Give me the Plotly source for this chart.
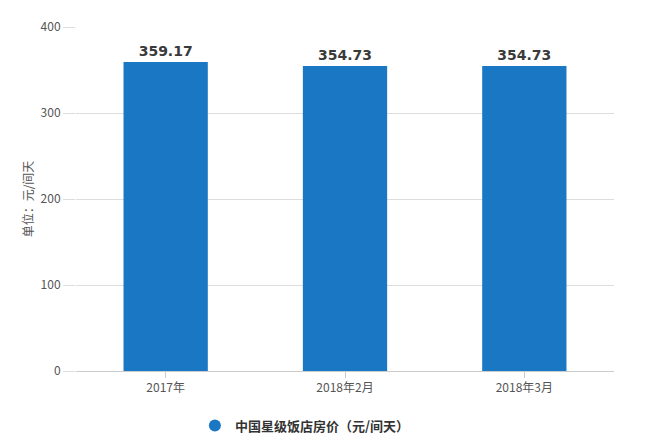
import plotly.graph_objects as go

categories = ["2017年", "2018年2月", "2018年3月"]
values = [359.17, 354.73, 354.73]
labels = ["<b>359.17</b>", "<b>354.73</b>", "<b>354.73</b>"]
series_name = "中国星级饭店房价（元/间天）"
y_title = "单位：元/间天"
y_ticks = [0, 100, 200, 300, 400]
bar_color = "#1a77c3"

fig = go.Figure()
fig.add_trace(go.Bar(
    x=categories, y=values, name=series_name, showlegend=False,
    marker=dict(color=bar_color, line=dict(width=0)),
    width=0.47,
    text=labels, textposition="outside",
    textfont=dict(family="DejaVu Sans", size=14, color="#3a3a3a"),
    cliponaxis=False,
))
fig.add_trace(go.Scatter(
    x=[None], y=[None], mode="markers", name="<b>" + series_name + "</b>",
    marker=dict(symbol="circle", size=12, color=bar_color),
))
fig.update_layout(
    width=642, height=436,
    margin=dict(l=68, r=36, t=19, b=73, autoexpand=False),
    paper_bgcolor="white", plot_bgcolor="white",
    font=dict(family="Noto Sans CJK SC", color="#555555", size=12),
    showlegend=True,
    legend=dict(orientation="h", x=0.221, xanchor="left", y=-0.115, yanchor="top",
                font=dict(size=13, color="#333333", family="Noto Sans CJK SC"),
                itemsizing="constant"),
    xaxis=dict(showline=True, linecolor="#cccccc", linewidth=1, ticks="outside",
               tickcolor="#cccccc", ticklen=6, tickfont=dict(size=12, color="#555555"),
               automargin=False),
    yaxis=dict(range=[0, 400], tickvals=y_ticks, showgrid=True, gridcolor="#dddddd",
               zeroline=False, ticks="outside", tickcolor="#dddddd", ticklen=12,
               tickfont=dict(size=12, color="#555555"), automargin=False,
               title=dict(text=y_title, font=dict(size=12, color="#555555"), standoff=4)),
)
fig.write_html("out.html")
